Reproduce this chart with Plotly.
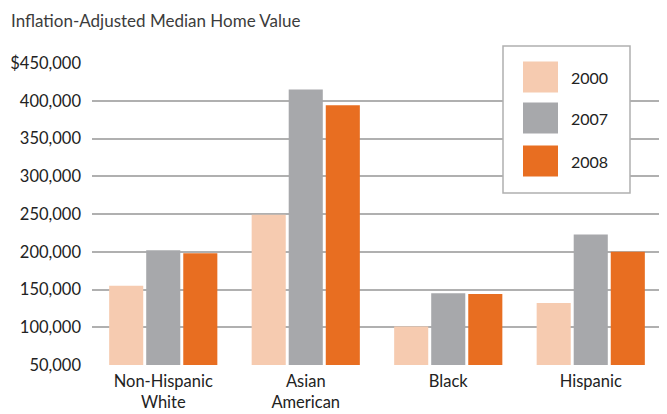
import plotly.graph_objects as go

categories = ["Non-Hispanic<br>White", "Asian<br>American", "Black", "Hispanic"]
years = ["2000", "2007", "2008"]
values_2000 = [155000, 249000, 101000, 132000]
values_2007 = [202000, 415000, 145000, 223000]
values_2008 = [198000, 394000, 144000, 200000]
tick_vals = [50000, 100000, 150000, 200000, 250000, 300000, 350000, 400000, 450000]
tick_text = ["50,000", "100,000", "150,000", "200,000", "250,000", "300,000", "350,000", "400,000", "$450,000"]
colors = ["#F6CBB0", "#A7A8AB", "#E86E21"]
series = [values_2000, values_2007, values_2008]

# page has an 8px default body margin; compensate so the picture lands at the reference spots
OFF = 8
W, H = 667 - OFF, 414 - OFF
L, R, T, B = 92 - OFF, 5, 63 - OFF, 49
FONT = "Lato"

fig = go.Figure()
for name, vals, col in zip(years, series, colors):
    fig.add_trace(go.Bar(x=categories, y=vals, name=name, marker_color=col,
                         marker_line_width=0, showlegend=False))

pw = W - L - R
ph = H - T - B
def px_x(x):
    return (x - OFF - L) / pw
def px_y(y):
    return (H - B - (y - OFF)) / ph

shapes = [dict(type="rect", xref="paper", yref="paper",
               x0=px_x(503), x1=px_x(630), y0=px_y(193), y1=px_y(46),
               fillcolor="white", line=dict(color="#b0b0b0", width=1.5), layer="above")]
annotations = [dict(text="Inflation-Adjusted Median Home Value", xref="paper", yref="paper",
                    x=px_x(9), y=px_y(21), xanchor="left", yanchor="middle", showarrow=False,
                    font=dict(family=FONT, size=17, color="#3c3c3c"))]
row_centers = [77, 118, 161]
for name, col, yc in zip(years, colors, row_centers):
    shapes.append(dict(type="rect", xref="paper", yref="paper",
                       x0=px_x(523), x1=px_x(558), y0=px_y(yc + 15.5), y1=px_y(yc - 15.5),
                       fillcolor=col, line=dict(width=0), layer="above"))
    annotations.append(dict(text=name, xref="paper", yref="paper", x=px_x(569), y=px_y(yc),
                            xanchor="left", yanchor="middle", showarrow=False,
                            font=dict(family=FONT, size=16, color="#222222")))

fig.update_layout(
    width=W, height=H, margin=dict(l=L, r=R, t=T, b=B, autoexpand=False),
    paper_bgcolor="white", plot_bgcolor="white",
    barmode="group", bargap=0.22, bargroupgap=0.08,
    font=dict(family=FONT, size=16, color="#222222"),
    shapes=shapes, annotations=annotations, showlegend=False,
)
fig.update_xaxes(showgrid=False, showline=False, ticks="", ticklabelstandoff=4, automargin=False,
                 tickfont=dict(family=FONT, size=16.5, color="#222222"))
fig.update_yaxes(range=[50000, 450000], tickvals=tick_vals, ticktext=tick_text,
                 showgrid=True, gridcolor="#b0b0b0", gridwidth=1.5, zeroline=False,
                 showline=False, ticks="", ticklabelstandoff=10, automargin=False,
                 tickfont=dict(family=FONT, size=16.5, color="#222222"))
fig.write_html("out.html")
